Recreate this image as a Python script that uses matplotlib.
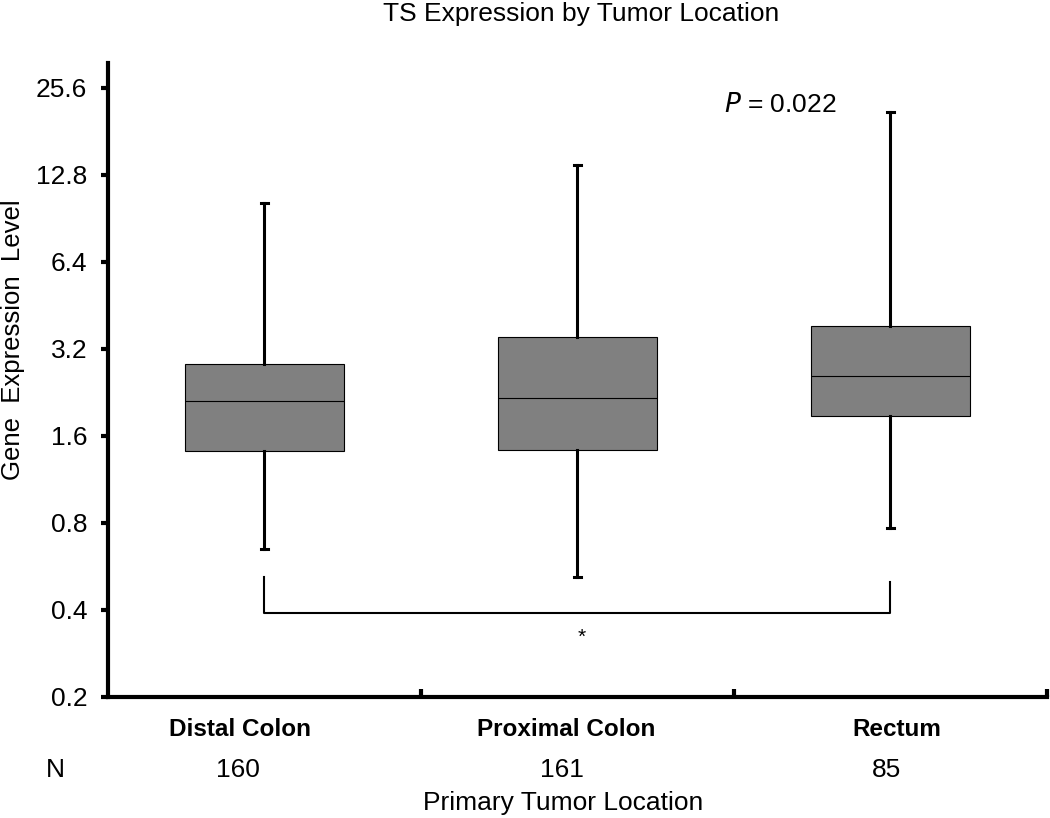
import matplotlib
matplotlib.use("Agg")
import matplotlib.pyplot as plt
import matplotlib.transforms as mtransforms

plt.rcParams["font.family"] = ["Liberation Sans", "DejaVu Sans"]

# box summaries (log2 axis)
groups = ["Distal Colon", "Proximal Colon", "Rectum"]
counts = [160, 161, 85]
whisker_low = [0.65, 0.52, 0.77]
q1 = [1.42, 1.43, 1.88]
median = [2.11, 2.17, 2.58]
q3 = [2.84, 3.52, 3.84]
whisker_high = [10.2, 13.8, 21.1]

y_ticks = [0.2, 0.4, 0.8, 1.6, 3.2, 6.4, 12.8, 25.6]

# significance bracket between distal colon and rectum
bracket_x = [0.5, 0.5, 2.5, 2.5]
bracket_y = [0.52, 0.39, 0.39, 0.50]
p_text = "= 0.022"

# the category / N table under the axis is not centred on the boxes
label_x = [0.422, 1.463, 2.521]
count_x = [0.415, 1.450, 2.489]

fig = plt.figure(figsize=(10.5, 8.18), dpi=100)
ax = fig.add_axes([0.1029, 0.148, 0.894, 0.775])

positions = [i + 0.5 for i in range(len(groups))]
stats = []
for i in range(len(groups)):
    stats.append({
        "whislo": whisker_low[i], "q1": q1[i], "med": median[i],
        "q3": q3[i], "whishi": whisker_high[i], "fliers": [],
    })

ax.bxp(stats, positions=positions, widths=0.51, patch_artist=True,
       showfliers=False, capwidths=0.022,
       boxprops=dict(facecolor="#808080", edgecolor="black", linewidth=0.8),
       medianprops=dict(color="black", linewidth=0.8),
       whiskerprops=dict(color="black", linewidth=2.2),
       capprops=dict(color="black", linewidth=2.2))

ax.set_yscale("log", base=2)
ax.set_ylim(0.2, 31.2)
ax.set_yticks(y_ticks)
ax.set_yticklabels([f"{v:g}" for v in y_ticks])
ax.minorticks_off()
ax.set_xlim(0, 3)
ax.set_xticks([1, 2, 3])
ax.set_xticklabels([])

for side in ["top", "right"]:
    ax.spines[side].set_visible(False)
for side in ["left", "bottom"]:
    ax.spines[side].set_linewidth(3)
ax.tick_params(axis="y", direction="out", length=5, width=3, labelsize=19, pad=10)
ax.tick_params(axis="x", direction="in", length=6, width=3)

ax.plot(bracket_x, bracket_y, color="black", linewidth=1.5, clip_on=False)
ax.text(1.515, 0.322, "*", ha="center", va="center", fontsize=15)
ax.text(1.97, 22.4, "$P$ " + p_text, ha="left", va="center", fontsize=19,
        math_fontfamily="dejavusans")

trans = mtransforms.blended_transform_factory(ax.transData, ax.transAxes)
for lx, cx, name, n in zip(label_x, count_x, groups, counts):
    ax.text(lx, -0.052, name, transform=trans, ha="center", va="center",
            fontsize=17.5, fontweight="bold")
    ax.text(cx, -0.116, str(n), transform=trans, ha="center", va="center",
            fontsize=19)

fig.text(55 / 1050, 1 - 770 / 818, "N", ha="center", va="center", fontsize=19)
fig.text(563 / 1050, 1 - 803 / 818, "Primary Tumor Location", ha="center",
         va="center", fontsize=19)
fig.text(13 / 1050, 1 - 340 / 818, "Gene  Expression  Level", rotation=90,
         ha="center", va="center", fontsize=18.5)
fig.text(581 / 1050, 1 - 14 / 818, "TS Expression by Tumor Location",
         ha="center", va="center", fontsize=19)

fig.savefig("out.png", dpi=100)
